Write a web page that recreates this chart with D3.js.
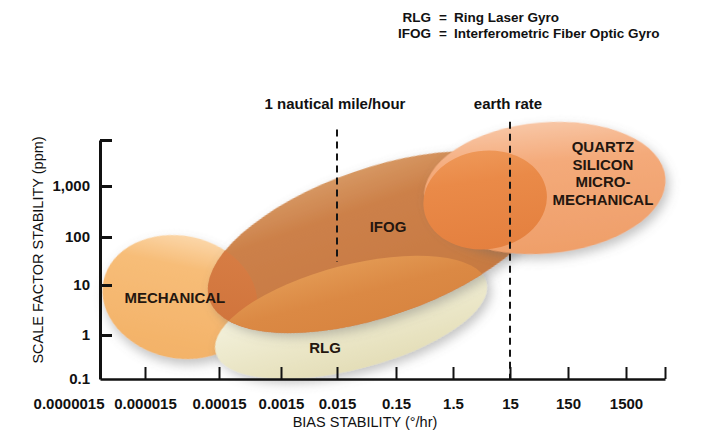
<!DOCTYPE html>
<html><head><meta charset="utf-8">
<script src="https://cdn.jsdelivr.net/npm/d3@7"></script>
<style>
html,body{margin:0;padding:0;background:#fff;}
svg{display:block;font-family:"Liberation Sans",Arial,Helvetica,sans-serif;}
</style></head><body>
<svg id="chart" width="701" height="432"></svg>
<script>
// ---------- data ----------
const xTickValues = [0.0000015, 0.000015, 0.00015, 0.0015, 0.015, 0.15, 1.5, 15, 150, 1500];
const xTickLabels = ["0.0000015","0.000015","0.00015","0.0015","0.015","0.15","1.5","15","150","1500"];
const xAxisEnd = 7000;
const yTickValues = [0.1, 1, 10, 100, 1000];
const yTickLabels = ["0.1","1","10","100","1,000"];
const yAxisEnd = 10000;

const techNames = ["MECHANICAL","RLG","IFOG","QUARTZ"];
const techLabelLines = [["MECHANICAL"],["RLG"],["IFOG"],["QUARTZ","SILICON","MICRO-","MECHANICAL"]];
const biasFrom = [1.8e-6, 1.35e-4, 1.12e-4, 0.47];
const sfFrom   = [12.2, 0.40, 5.0, 570];
const biasTo   = [6.0e-4, 5.8, 63, 7100];
const sfTo     = [2.73, 11.5, 1100, 1530];
const spreadDecades = [1.28, 1.09, 1.55, 1.37];
const labelBias = [3.8e-5, 0.0092, 0.11, 600];
const labelSf   = [5.5, 0.5, 157, 1900];

// IFOG region showing through the quartz ellipse
const overlapBias = [0.46, 64];
const overlapSf = [360, 784];
const overlapSpread = 1.03;

const refNames = ["1 nautical mile/hour","earth rate"];
const refBias = [0.015, 15];
const refSfTop = [17000, 25000];
const refSfBottom = [30, 0.1];

const legendAbbr = ["RLG","IFOG"];
const legendFull = ["Ring Laser Gyro","Interferometric Fiber Optic Gyro"];

// ---------- scales ----------
const x = d3.scaleLog().domain([...xTickValues, xAxisEnd])
  .range([100,145,219,281,337,396,453,510,568,626,665]);
const y = d3.scaleLog().domain([...yTickValues, yAxisEnd])
  .range([379,335,285,237,186,140]);
const pxPerDecade = (y(0.1) - y(10000)) / 5;

const svg = d3.select("#chart");
const defs = svg.append("defs");

const shadow = defs.append("filter").attr("id","shadow")
  .attr("x","-30%").attr("y","-30%").attr("width","160%").attr("height","170%");
shadow.append("feDropShadow").attr("dx",3).attr("dy",5).attr("stdDeviation",5.5)
  .attr("flood-color","#666").attr("flood-opacity",0.4);

function grad(id, stops){
  const g = defs.append("linearGradient").attr("id",id)
    .attr("x1",0).attr("y1",0).attr("x2",0).attr("y2",1);
  stops.forEach(s => g.append("stop").attr("offset",s[0]).attr("stop-color",s[1]));
  return "url(#"+id+")";
}
const fills = [
  grad("gMech", [[0,"#FBD6A8"],[0.25,"#F7BD78"],[1,"#F3B268"]]),
  grad("gRlg",  [[0,"#F9F7EA"],[0.35,"#F1EED6"],[1,"#E4DEB8"]]),
  grad("gIfog", [[0,"#D69762"],[0.25,"#CC8049"],[1,"#C67941"]]),
  grad("gQtz",  [[0,"#F8C6A5"],[0.3,"#F4AA7A"],[1,"#EF9F6A"]])
];
const fillMechIfog = grad("gMI", [[0,"#D87D44"],[1,"#CE6E36"]]);
const fillRlgIfog  = grad("gRI", [[0,"#E29852"],[0.3,"#DB8944"],[1,"#D5803C"]]);
const fillOverlap  = grad("gOv", [[0,"#EE9757"],[0.3,"#EA8A48"],[1,"#E4803F"]]);

function geom(b0, s0, b1, s1, spread){
  const x0 = x(b0), y0 = y(s0), x1 = x(b1), y1 = y(s1);
  return {cx:(x0+x1)/2, cy:(y0+y1)/2, rx:Math.hypot(x1-x0,y1-y0)/2,
          ry:spread*pxPerDecade, angle:Math.atan2(y1-y0,x1-x0)*180/Math.PI};
}
const geoms = techNames.map((n,i)=>geom(biasFrom[i],sfFrom[i],biasTo[i],sfTo[i],spreadDecades[i]));
function drawEll(sel, g){
  return sel.append("ellipse").attr("cx",0).attr("cy",0).attr("rx",g.rx).attr("ry",g.ry)
    .attr("transform",`translate(${g.cx},${g.cy}) rotate(${g.angle})`);
}

// clip path of IFOG
drawEll(defs.append("clipPath").attr("id","clipIfog"), geoms[2]);

const shapes = svg.append("g");
// mechanical, RLG, IFOG
[0,1,2].forEach(i=>{
  drawEll(shapes, geoms[i]).attr("fill",fills[i]).attr("filter","url(#shadow)");
});
// overlaps inside IFOG
const clipG = shapes.append("g").attr("clip-path","url(#clipIfog)");
drawEll(clipG, geoms[0]).attr("fill",fillMechIfog).attr("opacity",0.9);
drawEll(clipG, geoms[1]).attr("fill",fillRlgIfog);
// quartz
drawEll(shapes, geoms[3]).attr("fill",fills[3]).attr("filter","url(#shadow)");
// IFOG through quartz
drawEll(shapes, geom(overlapBias[0],overlapSf[0],overlapBias[1],overlapSf[1],overlapSpread))
  .attr("fill",fillOverlap);

// labels in ellipses
techNames.forEach((n,i)=>{
  const lines = techLabelLines[i];
  const lh = 17.4;
  const t = svg.append("text").attr("text-anchor","middle")
    .attr("font-size",15).attr("font-weight","bold").attr("fill","#24160f");
  lines.forEach((l,k)=>{
    t.append("tspan").attr("x",x(labelBias[i]))
      .attr("y",y(labelSf[i]) + (k-(lines.length-1)/2)*lh).attr("dy","0.35em").text(l);
  });
});

// reference dashed lines
refNames.forEach((n,i)=>{
  svg.append("line").attr("x1",x(refBias[i])).attr("x2",x(refBias[i]))
    .attr("y1",y(refSfTop[i])).attr("y2",y(refSfBottom[i]))
    .attr("stroke","#151515").attr("stroke-width",2).attr("stroke-dasharray","7,5");
  svg.append("text").attr("x",x(refBias[i])-2).attr("y",109).attr("text-anchor","middle")
    .attr("font-size",15).attr("font-weight","bold").attr("fill","#111").text(n);
});

// axes
const yAxis = svg.append("g").attr("transform",`translate(${x(xTickValues[0])},0)`)
  .call(d3.axisLeft(y).tickValues([...yTickValues.slice(1), yAxisEnd])
    .tickFormat(v=>{const k=yTickValues.indexOf(v); return k>=0?yTickLabels[k]:"";})
    .tickSize(-12).tickSizeOuter(0).tickPadding(10));
yAxis.attr("font-family",null);
yAxis.select(".domain").attr("stroke","#111").attr("stroke-width",3);
yAxis.selectAll(".tick line").attr("stroke","#111").attr("stroke-width",3);
yAxis.selectAll("text").attr("font-size",15).attr("font-weight","bold").attr("fill","#111");
// "0.1" label at the origin
svg.append("text").attr("x",x(xTickValues[0])-10).attr("y",y(yTickValues[0])).attr("dy","0.32em")
  .attr("text-anchor","end").attr("font-size",15).attr("font-weight","bold").attr("fill","#111")
  .text(yTickLabels[0]);

const xAxis = svg.append("g").attr("transform",`translate(0,${y(yTickValues[0])})`)
  .call(d3.axisBottom(x).tickValues([...xTickValues, xAxisEnd])
    .tickFormat(v=>{const k=xTickValues.indexOf(v); return k>=0?xTickLabels[k]:"";})
    .tickSize(-12).tickSizeOuter(0).tickPadding(19));
xAxis.attr("font-family",null);
xAxis.select(".domain").attr("stroke","#111").attr("stroke-width",2.5);
xAxis.selectAll(".tick line").attr("stroke","#111").attr("stroke-width",2);
xAxis.selectAll(".tick").filter(v=>v===xTickValues[0]).select("line").remove();
xAxis.selectAll("text").attr("font-size",15).attr("font-weight","bold").attr("fill","#111");
xAxis.selectAll(".tick").filter(v=>v===xTickValues[0]).select("text")
  .attr("text-anchor","end").attr("dx",4);

// axis titles
svg.append("text").attr("transform","translate(43,250) rotate(-90)")
  .attr("text-anchor","middle").attr("font-size",14.5).attr("fill","#111")
  .text("SCALE FACTOR STABILITY (ppm)");
svg.append("text").attr("x",365).attr("y",427).attr("text-anchor","middle")
  .attr("font-size",14.5).attr("fill","#111").text("BIAS STABILITY (°/hr)");

// legend
legendAbbr.forEach((a,i)=>{
  const by = 22 + i*15.5;
  const g = svg.append("g").attr("font-size",13.5).attr("font-weight","bold").attr("fill","#111");
  g.append("text").attr("x",431).attr("y",by).attr("text-anchor","end").text(a);
  g.append("text").attr("x",443).attr("y",by).attr("text-anchor","middle").text("=");
  g.append("text").attr("x",454).attr("y",by).text(legendFull[i]);
});
</script>
</body></html>
